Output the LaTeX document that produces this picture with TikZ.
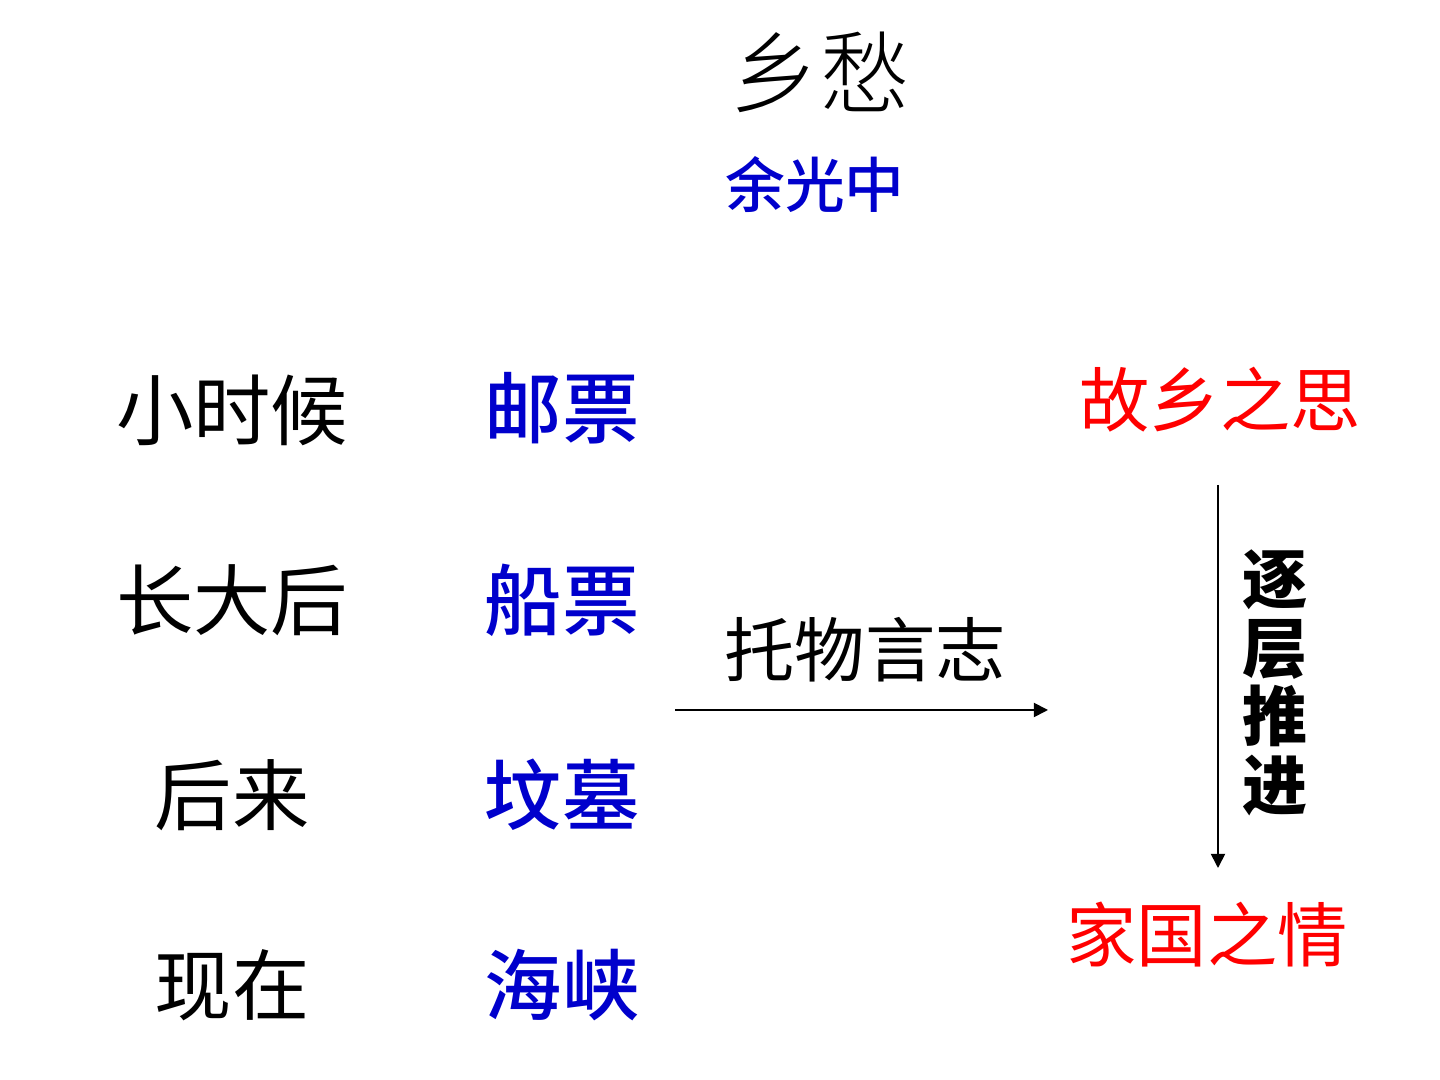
\documentclass[tikz,border=0pt]{standalone}
\usepackage{fontspec}
\newfontfamily\cjk{Noto Sans CJK SC}
\newfontfamily\cjklight{Noto Sans CJK SC Light}
\newfontfamily\cjkmedium{Noto Sans CJK SC Medium}
\usetikzlibrary{arrows.meta}
\definecolor{blu}{RGB}{0,0,204}
\definecolor{rosso}{RGB}{255,0,0}

\begin{document}
\begin{tikzpicture}[
    tempo/.style={inner sep=0pt, font=\cjk\fontsize{22}{26}\selectfont},
    oggetto/.style={inner sep=0pt, text=blu, font=\cjkmedium\fontsize{22}{26}\selectfont},
    senso/.style={inner sep=0pt, text=rosso, font=\cjk\fontsize{20}{24}\selectfont},
    freccia/.style={-{Triangle[length=4pt,width=4pt]}, line width=0.5pt}
]
\useasboundingbox (0,0) rectangle (14.4,10.8);

    % Titolo
    \node[inner sep=0pt, font=\cjklight\fontsize{25.5}{30}\selectfont](titolo) at (8.2,10.08) {乡愁};
    \node[inner sep=0pt, text=blu, font=\cjkmedium\fontsize{17}{20}\selectfont](autore) at (8.15,8.95) {余光中};

    % Colonna dei tempi
    \node[tempo](t1) at (2.32,6.7) {小时候};
    \node[tempo](t2) at (2.32,4.8) {长大后};
    \node[tempo](t3) at (2.32,2.85) {后来};
    \node[tempo](t4) at (2.32,0.95) {现在};

    % Colonna degli oggetti
    \node[oggetto](o1) at (5.62,6.72) {邮票};
    \node[oggetto](o2) at (5.62,4.8) {船票};
    \node[oggetto](o3) at (5.62,2.85) {坟墓};
    \node[oggetto](o4) at (5.62,0.95) {海峡};

    % Freccia orizzontale
    \node[inner sep=0pt, font=\cjk\fontsize{20}{24}\selectfont](tecnica) at (8.65,4.3) {托物言志};
    \coordinate (h1) at (6.75,3.7);
    \coordinate (h2) at (10.48,3.7);
    \draw[freccia] (h1) -- (h2);

    % Sentimenti
    \node[senso](s1) at (12.2,6.8) {故乡之思};
    \node[senso](s2) at (12.07,1.45) {家国之情};
    \coordinate (v1) at (12.18,5.95);
    \coordinate (v2) at (12.18,2.12);
    \draw[freccia] (v1) -- (v2);
    \node[inner sep=0pt, align=center, font=\cjk\bfseries\fontsize{18.5}{19.5}\selectfont](passo) at (12.75,3.97) {逐\\层\\推\\进};
\end{tikzpicture}
\end{document}
